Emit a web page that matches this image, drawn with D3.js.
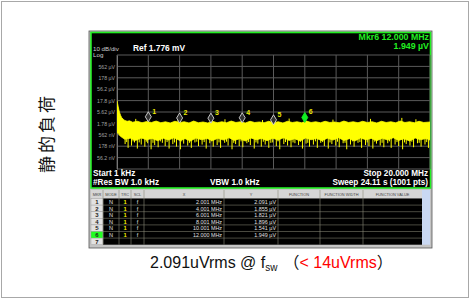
<!DOCTYPE html>
<html>
<head>
<meta charset="utf-8">
<script src="https://cdn.jsdelivr.net/npm/d3@7"></script>
<style>
  body { margin: 0; background: #fff; }
  svg { display: block; }
</style>
</head>
<body>
<div id="chart"></div>
<script>
// Données (fréquence en MHz, niveau en µV)
const refLevel = 1778; // µV, haut de la grille
const startFreq = 0.001;
const stopFreq = 20;

const yTickLabels = ["562 µV", "178 µV", "56.2 µV", "17.8 µV", "5.62 µV", "1.78 µV", "562 nV", "178 nV", "56.2 nV"];

const traceTop = [[0.001,17.8],[0.04,13],[0.08,9.5],[0.12,7],[0.17,5.2],[0.23,4.0],[0.3,3.2],[0.4,2.7],[0.5,2.4],[0.65,2.2],[0.8,2.3],[1.0,2.0],[1.3,2.2],[1.6,1.9],[1.9,2.15],[2.2,1.95],[2.5,2.25],[2.8,1.9],[3.1,2.1],[3.4,1.85],[3.7,2.2],[4.0,1.95],[4.3,2.1],[4.6,1.85],[4.9,2.25],[5.2,1.9],[5.5,2.05],[5.8,1.85],[6.1,2.2],[6.4,1.9],[6.7,2.1],[7.0,1.9],[7.3,2.25],[7.6,1.95],[7.9,2.1],[8.2,1.85],[8.5,2.2],[8.8,1.95],[9.1,2.05],[9.4,1.9],[9.7,2.2],[10.0,1.9],[10.3,2.1],[10.6,1.85],[10.9,2.2],[11.2,1.95],[11.5,2.1],[11.8,1.9],[12.1,2.25],[12.4,1.95],[12.7,2.1],[13.0,1.9],[13.3,2.2],[13.6,1.95],[13.9,2.05],[14.2,1.9],[14.5,2.25],[14.8,1.95],[15.1,2.1],[15.4,1.9],[15.7,2.2],[16.0,1.95],[16.3,2.1],[16.6,1.85],[16.9,2.2],[17.2,1.95],[17.5,2.1],[17.8,1.9],[18.1,2.25],[18.4,1.95],[18.7,2.1],[19.0,1.9],[19.3,2.2],[19.6,1.95],[20,2.05]];

const traceBottom = [[0.001,0.7],[0.1,0.62],[0.2,0.5],[0.35,0.42],[0.5,0.36],[0.85,0.4],[1.2,0.32],[1.55,0.41],[1.9,0.34],[2.25,0.39],[2.6,0.31],[2.95,0.4],[3.3,0.33],[3.65,0.42],[4.0,0.32],[4.35,0.38],[4.7,0.3],[5.05,0.41],[5.4,0.34],[5.75,0.39],[6.1,0.31],[6.45,0.4],[6.8,0.33],[7.15,0.42],[7.5,0.32],[7.85,0.38],[8.2,0.3],[8.55,0.41],[8.9,0.34],[9.25,0.39],[9.6,0.31],[9.95,0.4],[10.3,0.33],[10.65,0.42],[11.0,0.32],[11.35,0.38],[11.7,0.3],[12.05,0.41],[12.4,0.34],[12.75,0.39],[13.1,0.31],[13.45,0.4],[13.8,0.33],[14.15,0.42],[14.5,0.32],[14.85,0.38],[15.2,0.3],[15.55,0.41],[15.9,0.34],[16.25,0.39],[16.6,0.31],[16.95,0.4],[17.3,0.33],[17.65,0.42],[18.0,0.32],[18.35,0.38],[18.7,0.3],[19.05,0.41],[19.4,0.34],[19.75,0.39],[20,0.33]];

const downSpikes = [[0.52,0.22],[0.71,0.15],[0.93,0.19],[1.12,0.26],[1.30,0.14],[1.55,0.21],[1.78,0.17],[1.96,0.24],[2.18,0.13],[2.41,0.20],[2.63,0.16],[2.90,0.25],[3.08,0.18],[3.33,0.14],[3.57,0.22],[3.80,0.17],[4.05,0.13],[4.26,0.23],[4.52,0.19],[4.75,0.15],[4.98,0.26],[5.21,0.18],[5.44,0.21],[5.70,0.14],[5.93,0.24],[6.15,0.17],[6.40,0.20],[6.62,0.15],[6.88,0.25],[7.10,0.19],[7.35,0.13],[7.58,0.22],[7.81,0.18],[8.04,0.16],[8.30,0.24],[8.52,0.20],[8.77,0.14],[9.00,0.23],[9.22,0.17],[9.47,0.21],[9.70,0.15],[9.95,0.26],[10.18,0.18],[10.40,0.13],[10.66,0.22],[10.90,0.19],[11.12,0.16],[11.37,0.24],[11.60,0.20],[11.85,0.14],[12.08,0.23],[12.30,0.17],[12.55,0.21],[12.80,0.15],[13.02,0.25],[13.25,0.18],[13.50,0.14],[13.73,0.22],[13.98,0.19],[14.20,0.16],[14.45,0.24],[14.68,0.13],[14.92,0.21],[15.15,0.17],[15.40,0.25],[15.63,0.15],[15.88,0.20],[16.10,0.18],[16.35,0.14],[16.58,0.23],[16.82,0.19],[17.05,0.16],[17.30,0.24],[17.52,0.15],[17.77,0.21],[18.00,0.18],[18.25,0.13],[18.48,0.22],[18.72,0.19],[18.95,0.16],[19.20,0.24],[19.43,0.17],[19.68,0.21],[19.90,0.15]];

const shortSpikes = [[0.62,0.27],[1.03,0.29],[1.42,0.26],[1.87,0.28],[2.30,0.25],[2.77,0.29],[3.20,0.27],[3.68,0.26],[4.14,0.29],[4.63,0.25],[5.10,0.28],[5.57,0.27],[6.03,0.29],[6.52,0.26],[7.00,0.28],[7.46,0.25],[7.93,0.29],[8.41,0.27],[8.88,0.26],[9.35,0.28],[9.83,0.25],[10.29,0.29],[10.77,0.27],[11.25,0.26],[11.73,0.28],[12.19,0.25],[12.68,0.29],[13.14,0.27],[13.61,0.26],[14.09,0.28],[14.57,0.25],[15.04,0.29],[15.52,0.27],[15.99,0.26],[16.47,0.28],[16.94,0.25],[17.41,0.29],[17.89,0.27],[18.37,0.26],[18.84,0.28],[19.31,0.25],[19.79,0.27]];

const upSpikes = [[1.2,2.8],[3.9,2.6],[6.9,2.7],[9.3,2.5],[11.0,2.9],[13.8,2.6],[16.2,2.8],[18.2,3.1],[19.1,2.7]];

const markerNames = ["1", "2", "3", "4", "5", "6"];
const markerFreq = [2.001, 4.001, 6.001, 8.001, 10.001, 12.000];
const markerValue = [2.091, 1.855, 1.821, 1.896, 1.541, 1.949];
const markerXText = ["2.001 MHz", "4.001 MHz", "6.001 MHz", "8.001 MHz", "10.001 MHz", "12.000 MHz"];
const markerYText = ["2.091 µV", "1.855 µV", "1.821 µV", "1.896 µV", "1.541 µV", "1.949 µV"];
const activeMarker = 5;

const tableHeaders = ["MKR", "MODE", "TRC", "SCL", "X", "Y", "FUNCTION", "FUNCTION WIDTH", "FUNCTION VALUE"];

// Taille
const width = 472;
const height = 300;
const plotLeft = 117, plotRight = 430, plotTop = 55, plotBottom = 169;

const svg = d3.select("#chart").append("svg")
  .attr("width", width)
  .attr("height", height);

// Cadre de la diapositive
svg.append("rect")
  .attr("x", 1.5).attr("y", 1.5)
  .attr("width", 467).attr("height", 296)
  .attr("fill", "#fff")
  .attr("stroke", "#a8a8a8");

// Capture de l'analyseur
svg.append("rect")
  .attr("x", 89).attr("y", 31).attr("width", 343).attr("height", 217)
  .attr("fill", "#c4c4c4").attr("stroke", "#555").attr("stroke-width", 0.8);

svg.append("rect")
  .attr("x", 91).attr("y", 32.5).attr("width", 339.5).attr("height", 155.5)
  .attr("fill", "#000").attr("stroke", "#22ee22").attr("stroke-width", 1.6);

// Echelles
const x = d3.scaleLinear().domain([startFreq, stopFreq]).range([plotLeft, plotRight]);
const y = d3.scaleLog().domain([refLevel / 1e5, refLevel]).range([plotBottom, plotTop]);

svg.append("clipPath").attr("id", "plotclip")
  .append("rect")
  .attr("x", plotLeft).attr("y", plotTop)
  .attr("width", plotRight - plotLeft).attr("height", plotBottom - plotTop);

// Grille
const hLevels = d3.range(0, 11).map((k) => refLevel / Math.pow(10, k / 2));
const vFreqs = d3.range(0, 11).map((k) => startFreq + k * (stopFreq - startFreq) / 10);

svg.append("g")
  .selectAll("line")
  .data(hLevels)
  .join("line")
  .attr("x1", plotLeft).attr("x2", plotRight)
  .attr("y1", (d) => y(d)).attr("y2", (d) => y(d))
  .attr("stroke", "#5a5a5a").attr("stroke-width", 1);

svg.append("g")
  .selectAll("line")
  .data(vFreqs)
  .join("line")
  .attr("x1", (d) => x(d)).attr("x2", (d) => x(d))
  .attr("y1", plotTop).attr("y2", plotBottom)
  .attr("stroke", "#5a5a5a").attr("stroke-width", 1);

// Axe Y (libellés seulement)
const yAxis = svg.append("g")
  .attr("transform", `translate(${plotLeft},0)`)
  .call(
    d3.axisLeft(y)
      .tickValues(hLevels.slice(1, 10))
      .tickFormat((d, i) => yTickLabels[i])
      .tickSize(0)
      .tickPadding(2)
  );
yAxis.select(".domain").attr("stroke", "#777");
yAxis.selectAll("text")
  .style("font-family", "Liberation Sans, Arial, sans-serif")
  .style("font-size", "5.2px")
  .style("fill", "#a0a0a0");

// Trace jaune
const traceG = svg.append("g").attr("clip-path", "url(#plotclip)");

const band = traceTop.concat(traceBottom.slice().reverse());
traceG.append("path")
  .datum(band)
  .attr("fill", "#ffff00")
  .attr("stroke", "#ffff00")
  .attr("stroke-width", 0.8)
  .attr("d", d3.line().x((d) => x(d[0])).y((d) => y(d[1])));

traceG.append("g")
  .selectAll("line")
  .data(downSpikes.concat(shortSpikes))
  .join("line")
  .attr("x1", (d) => x(d[0])).attr("x2", (d) => x(d[0]))
  .attr("y1", y(0.6)).attr("y2", (d) => y(d[1]))
  .attr("stroke", "#ffff00").attr("stroke-width", 1);

traceG.append("g")
  .selectAll("line")
  .data(upSpikes)
  .join("line")
  .attr("x1", (d) => x(d[0])).attr("x2", (d) => x(d[0]))
  .attr("y1", y(1.6)).attr("y2", (d) => y(d[1]))
  .attr("stroke", "#ffff00").attr("stroke-width", 1);

// Marqueurs
const markers = markerFreq.map((f, i) => ({ f, v: markerValue[i], name: markerNames[i], active: i === activeMarker }));
const mg = svg.append("g")
  .selectAll("g")
  .data(markers)
  .join("g")
  .attr("transform", (d) => `translate(${x(d.f)},${y(d.v)})`);

mg.append("path")
  .attr("d", "M0,0 L-3,-5 L0,-10 L3,-5 Z")
  .attr("fill", (d) => (d.active ? "#11ee22" : "#333"))
  .attr("stroke", (d) => (d.active ? "#11ee22" : "#d8d8d8"))
  .attr("stroke-width", 0.9);

mg.append("text")
  .attr("x", 4).attr("y", -8)
  .text((d) => d.name)
  .style("font-family", "Liberation Sans, Arial, sans-serif")
  .style("font-size", "7px")
  .style("font-weight", "bold")
  .style("fill", "#e8e800");

// Textes de l'analyseur
const txt = (xx, yy, s, size, color, bold, anchor) =>
  svg.append("text")
    .attr("x", xx).attr("y", yy)
    .attr("text-anchor", anchor || "start")
    .text(s)
    .style("font-family", "Liberation Sans, Arial, sans-serif")
    .style("font-size", size + "px")
    .style("font-weight", bold ? "bold" : "normal")
    .style("fill", color);

txt(93, 50.5, "10 dB/div", 6.2, "#cfcfcf", false);
txt(93, 56.5, "Log", 6.2, "#cfcfcf", false);
txt(133, 51, "Ref 1.776 mV", 8.4, "#ffffff", true);
txt(429, 39.5, "Mkr6 12.000 MHz", 8.8, "#22ee22", true, "end");
txt(429, 48.5, "1.949 µV", 8.8, "#22ee22", true, "end");
txt(93, 176, "Start 1 kHz", 8.2, "#ffffff", true);
txt(93, 184.5, "#Res BW 1.0 kHz", 8.2, "#ffffff", true);
txt(210, 184.5, "VBW 1.0 kHz", 8.2, "#ffffff", true);
txt(428, 176, "Stop 20.000 MHz", 8.2, "#ffffff", true, "end");
txt(428, 184.5, "Sweep  24.11 s (1001 pts)", 8.2, "#ffffff", true, "end");

// Tableau des marqueurs
const colEdges = [91, 103, 119, 131, 144, 224, 278, 320, 363, 422];
const tableTop = 190, headerH = 8, rowH = 6.6, nRows = 7;
const rowsTop = tableTop + headerH + 0.5;
const tableBottom = rowsTop + nRows * rowH;

svg.append("rect")
  .attr("x", colEdges[0]).attr("y", tableTop)
  .attr("width", colEdges[colEdges.length - 1] - colEdges[0]).attr("height", headerH)
  .attr("fill", "#d6d6d6");

svg.append("rect")
  .attr("x", colEdges[1]).attr("y", rowsTop)
  .attr("width", colEdges[colEdges.length - 1] - colEdges[1]).attr("height", nRows * rowH)
  .attr("fill", "#000");

svg.append("rect")
  .attr("x", colEdges[colEdges.length - 1]).attr("y", tableTop)
  .attr("width", 8).attr("height", tableBottom - tableTop)
  .attr("fill", "#c9d8f2");

svg.append("g")
  .selectAll("rect")
  .data(d3.range(nRows))
  .join("rect")
  .attr("x", colEdges[0]).attr("y", (i) => rowsTop + i * rowH)
  .attr("width", colEdges[1] - colEdges[0]).attr("height", rowH)
  .attr("fill", (i) => (i === activeMarker ? "#22ff22" : "#e2e2e2"))
  .attr("stroke", "#9a9a9a").attr("stroke-width", 0.4);

// lignes du tableau
svg.append("g")
  .selectAll("line")
  .data(d3.range(1, nRows))
  .join("line")
  .attr("x1", colEdges[1]).attr("x2", colEdges[colEdges.length - 1])
  .attr("y1", (i) => rowsTop + i * rowH).attr("y2", (i) => rowsTop + i * rowH)
  .attr("stroke", "#7a7a6a").attr("stroke-width", 0.6);

svg.append("g")
  .selectAll("line")
  .data(colEdges.slice(1, colEdges.length - 1))
  .join("line")
  .attr("x1", (d) => d).attr("x2", (d) => d)
  .attr("y1", tableTop).attr("y2", tableBottom)
  .attr("stroke", "#8a8a7a").attr("stroke-width", 0.6);

const cell = (xx, yy, s, size, color, bold, anchor) =>
  svg.append("text")
    .attr("x", xx).attr("y", yy)
    .attr("text-anchor", anchor || "middle")
    .text(s)
    .style("font-family", "Liberation Sans, Arial, sans-serif")
    .style("font-size", size + "px")
    .style("font-weight", bold ? "bold" : "normal")
    .style("fill", color);

tableHeaders.forEach((h, i) => {
  cell((colEdges[i] + colEdges[i + 1]) / 2, tableTop + 5.6, h, 3.9, "#444", false);
});

d3.range(nRows).forEach((i) => {
  const yy = rowsTop + i * rowH + 5.4;
  cell((colEdges[0] + colEdges[1]) / 2, yy, String(i + 1), 6, "#222", true);
  if (i < markerFreq.length) {
    cell((colEdges[1] + colEdges[2]) / 2, yy, "N", 5.6, "#e0e0e0", false);
    cell((colEdges[2] + colEdges[3]) / 2, yy, "1", 5.8, "#f0f000", true);
    cell((colEdges[3] + colEdges[4]) / 2, yy, "f", 5.6, "#e0e0e0", false);
    cell(colEdges[5] - 2, yy, markerXText[i], 5.4, "#e0e0e0", false, "end");
    cell(colEdges[6] - 2, yy, markerYText[i], 5.4, "#e0e0e0", false, "end");
  }
});

// Texte tourné à gauche (lu de bas en haut)
svg.append("text")
  .attr("transform", "translate(53,133) rotate(-90)")
  .attr("text-anchor", "middle")
  .text("静的負荷")
  .style("font-family", "Noto Sans CJK JP")
  .style("font-size", "17px")
  .style("letter-spacing", "3px")
  .style("fill", "#111");

// Légende du bas
const cap = svg.append("text")
  .attr("x", 150).attr("y", 268)
  .style("font-family", "Liberation Sans, Arial, sans-serif")
  .style("font-size", "16px")
  .style("fill", "#111");
cap.append("tspan").text("2.091uVrms @ f");
cap.append("tspan").attr("dy", 3).style("font-size", "10px").text("sw");
cap.append("tspan").attr("dy", -3).attr("dx", 6)
  .style("font-family", "Noto Sans CJK JP").text("（");
cap.append("tspan").style("fill", "#ff0000").text("< 14uVrms");
cap.append("tspan").style("font-family", "Noto Sans CJK JP").text("）");
</script>
</body>
</html>
